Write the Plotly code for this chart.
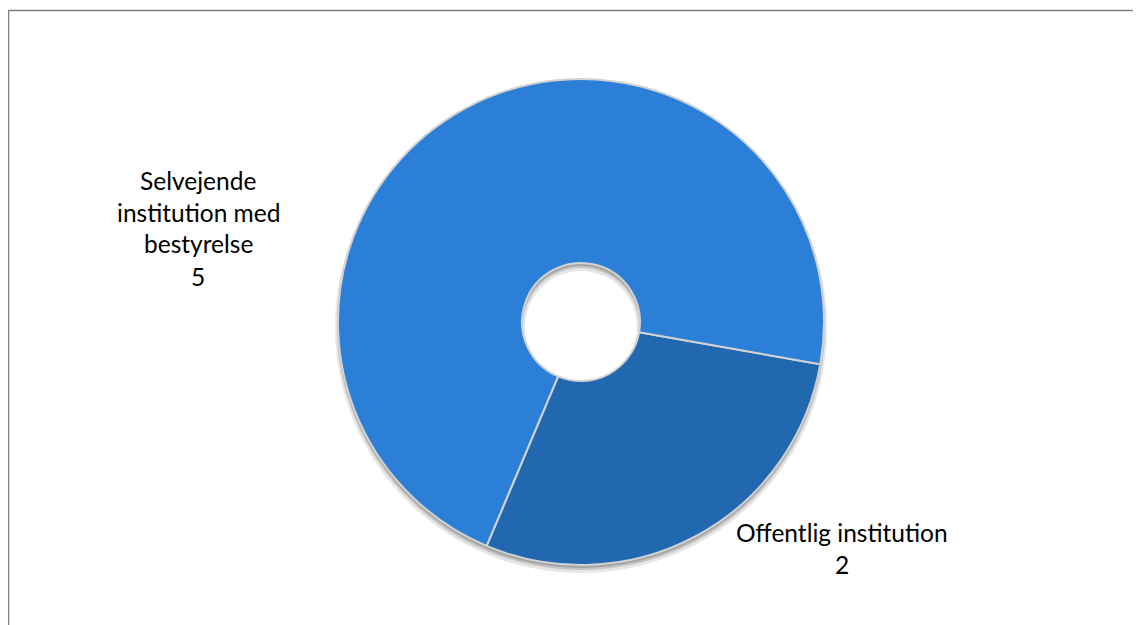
import plotly.graph_objects as go

# Data
categories = ["Offentlig institution", "Selvejende institution med bestyrelse"]
values = [2, 5]
label_lines = [["Offentlig institution"], ["Selvejende", "institution med", "bestyrelse"]]

colors = ["#2268B0", "#2B7FD7"]

W, H = 1141, 625
OFF = 8  # page body offset
cx, cy, R = 581 - OFF, 322 - OFF, 243
hole = 59 / 243

def dom(cx, cy, r):
    return dict(x=[(cx - r) / W, (cx + r) / W], y=[(H - cy - r) / H, (H - cy + r) / H])

fig = go.Figure()

# soft shadow layers
for dy, extra, op in [(5, 3, 0.10), (4, 1, 0.14), (3, 0, 0.16)]:
    fig.add_trace(go.Pie(
        values=[1], labels=["shadow"], domain=dom(cx, cy + dy, R + extra),
        hole=(59 - extra) / (R + extra), sort=False, textinfo="none", hoverinfo="skip",
        marker=dict(colors=[f"rgba(0,0,0,{op})"], line=dict(width=0)), showlegend=False,
    ))

fig.add_trace(go.Pie(
    labels=categories, values=values, domain=dom(cx, cy, R), hole=hole,
    sort=False, direction="clockwise", rotation=100,
    textinfo="none",
    marker=dict(colors=colors, line=dict(color="#D2D2D2", width=2)),
    showlegend=False,
))

# Labels placed outside
label_pos = [(842 - OFF, 532 - OFF), (198 - OFF, 180 - OFF)]
ann = []
line_h = 32
for lines, val, (x0, y0) in zip(label_lines, values, label_pos):
    for i, t in enumerate(lines + [str(val)]):
        ann.append(dict(
            x=x0 / W, y=1 - (y0 + i * line_h) / H, xref="paper", yref="paper",
            text=t, showarrow=False, xanchor="center", yanchor="middle",
            font=dict(family="Lato, Carlito, sans-serif", size=24.5, color="#000000"),
        ))

fig.update_layout(
    width=W, height=H, autosize=False,
    margin=dict(l=0, r=0, t=0, b=0),
    paper_bgcolor="white", plot_bgcolor="white",
    annotations=ann,
    shapes=[dict(type="rect", xref="paper", yref="paper",
                 x0=(8.5 - OFF) / W, x1=1.05, y0=-0.05, y1=1 - (10.5 - OFF) / H,
                 line=dict(color="#7F7F7F", width=1.5), layer="below")],
)

fig.write_html("out.html")
